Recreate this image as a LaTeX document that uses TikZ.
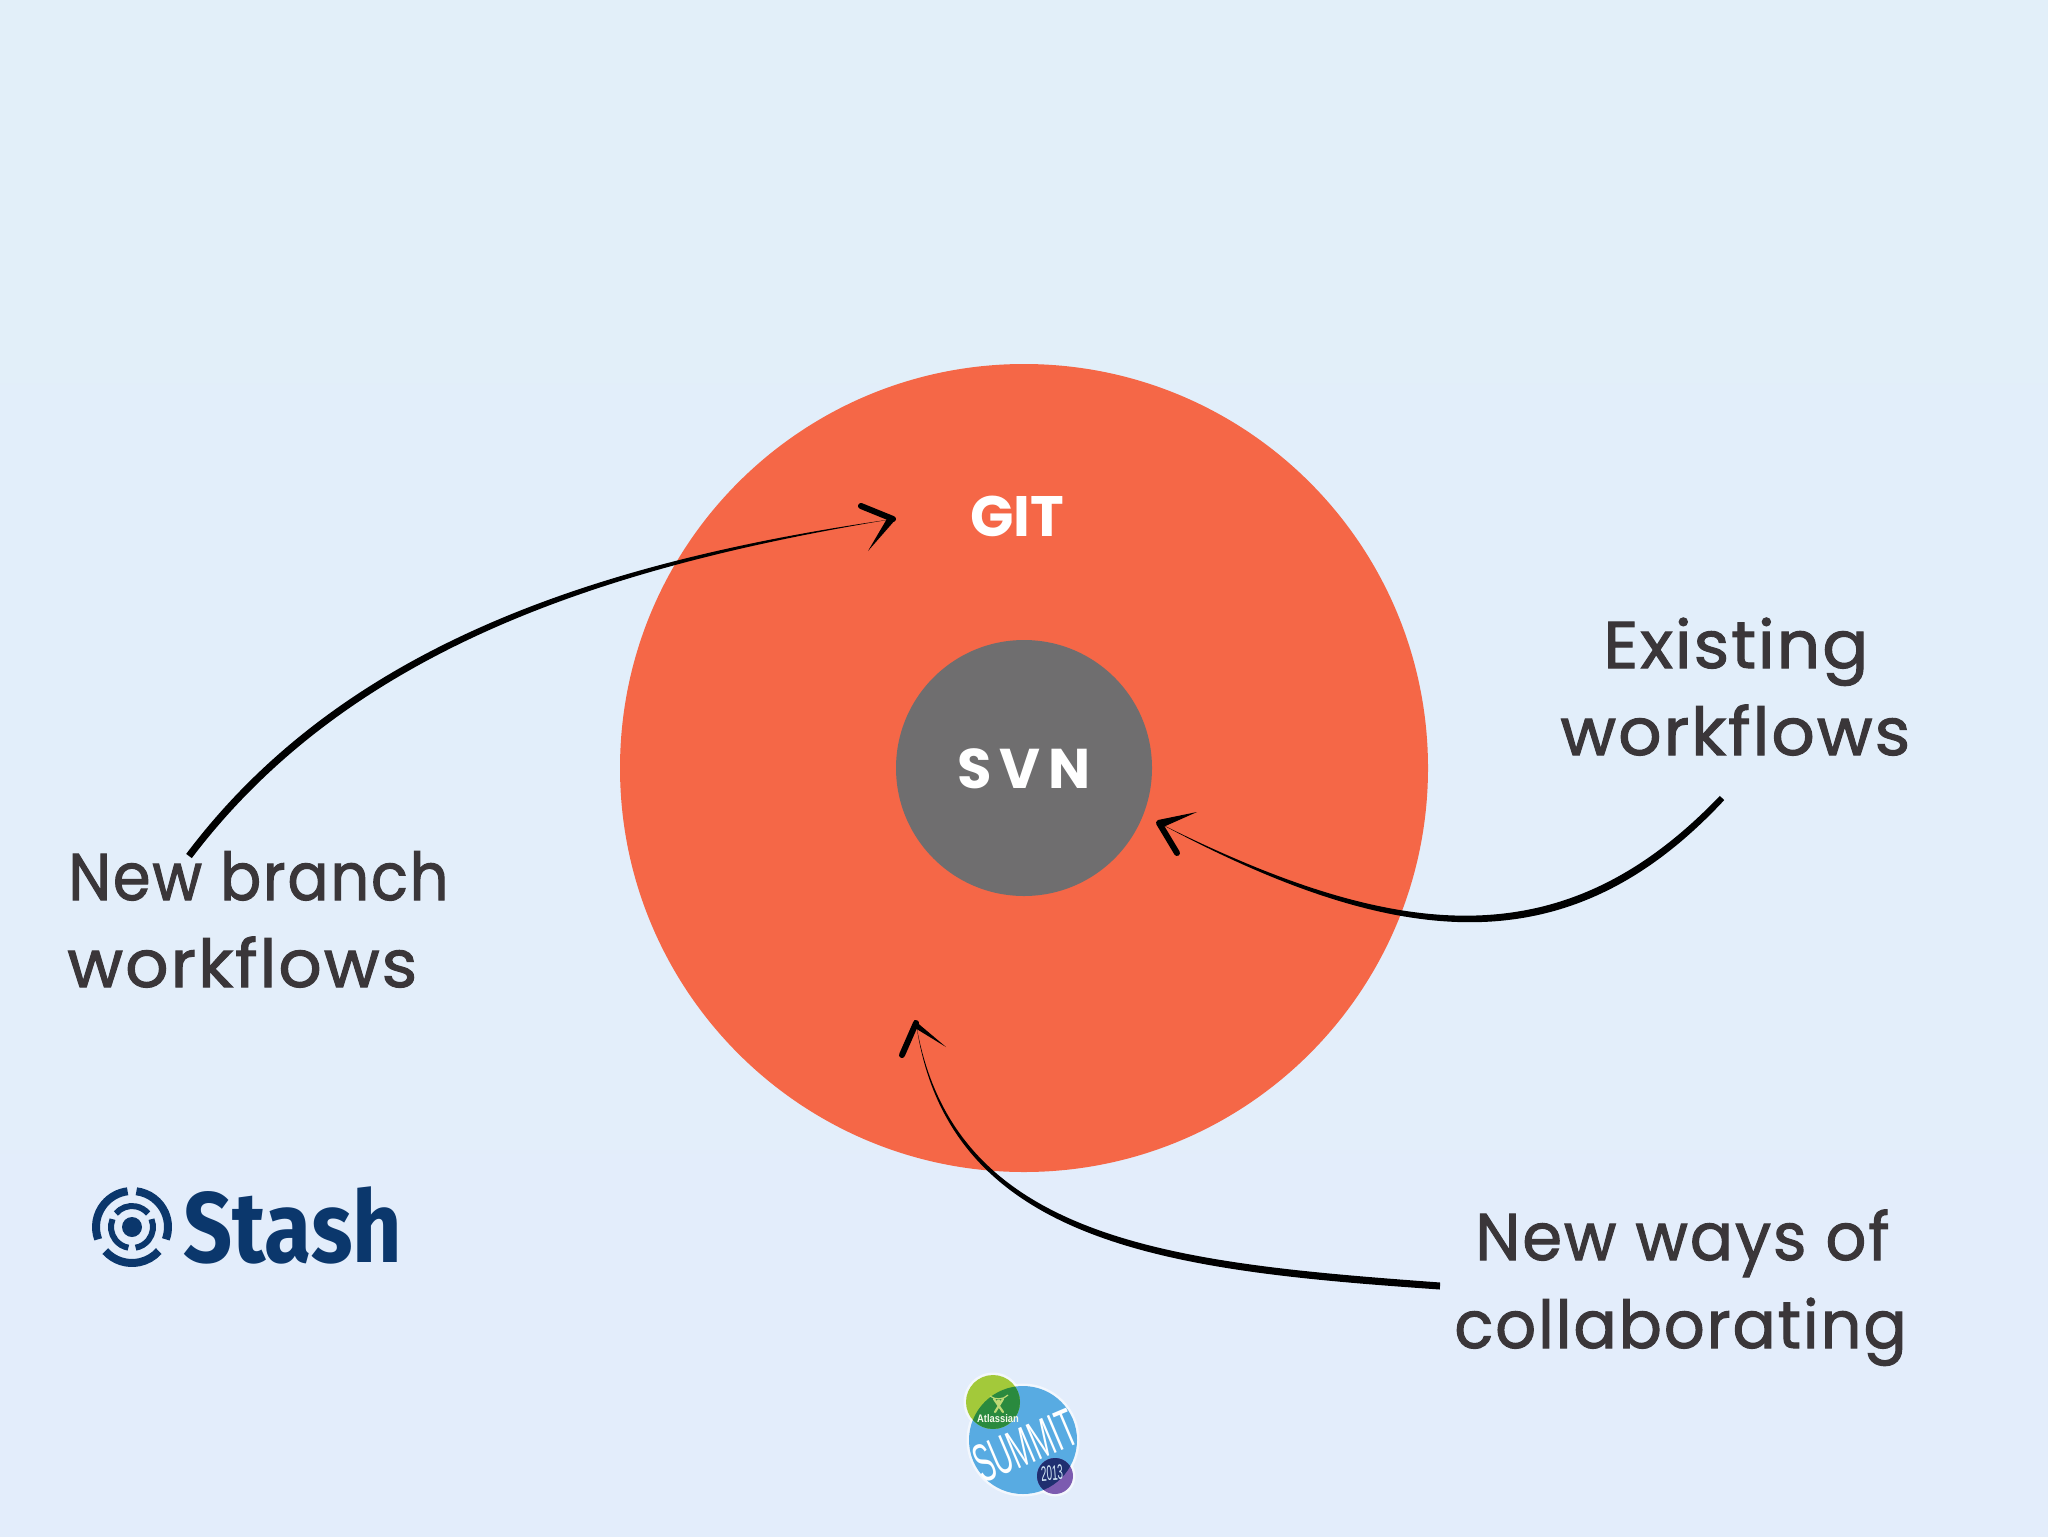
\documentclass[tikz,border=0pt]{standalone}
\usepackage{fontspec}
\usetikzlibrary{calc}
\setmainfont{Poppins}
\newfontfamily\handfont[LetterSpace=3,FakeBold=1.6]{Poppins}
\newfontfamily\headfont{Poppins}
\newfontfamily\svnfont[LetterSpace=14]{Poppins}
\newfontfamily\stashfont{Fira Sans}
\newfontfamily\narrowfont{Liberation Sans}
\definecolor{bgtop}{HTML}{E2EFF9}
\definecolor{bgbot}{HTML}{E3EDFB}
\definecolor{gitred}{HTML}{F56747}
\definecolor{svngrey}{HTML}{6F6E6F}
\definecolor{handink}{HTML}{3A3639}
\definecolor{stashblue}{HTML}{0B376C}
\definecolor{sumblue}{HTML}{58ABE2}
\definecolor{sumgreen}{HTML}{A3C93A}
\definecolor{sumdark}{HTML}{2A8A3E}
\definecolor{sumpurple}{HTML}{7C5BB0}
\definecolor{sumnavy}{HTML}{1F2F70}
\tikzset{
  hand/.style={anchor=base west,inner sep=0pt,text=handink,font=\handfont\fontsize{33}{33}\selectfont,transform shape},
  brushfill/.style={fill=black},
  barbthick/.style={draw=black,line width=3pt,line cap=round},
  ring/.style={draw=stashblue,line cap=butt},
}
\begin{document}
\begin{tikzpicture}[x=0.5pt,y=-0.5pt]
\useasboundingbox (0,0) rectangle (2048,1536);
\fill[top color=bgtop,bottom color=bgbot] (0,0) rectangle (2048,1536);

% circles
\node[circle,fill=gitred,minimum size=404pt,inner sep=0pt] (git) at (1024,768) {};
\node[circle,fill=svngrey,minimum size=128pt,inner sep=0pt] (svn) at (1024,768) {};
\node[anchor=base,inner sep=0pt,text=white,font=\headfont\bfseries\fontsize{28.5}{28.5}\selectfont] (gitlabel) at (1017,536) {GIT};
\node[anchor=base,inner sep=0pt,text=white,font=\svnfont\bfseries\fontsize{28}{28}\selectfont] (svnlabel) at (1024,788) {SVN};

% hand labels
\node[hand,xscale=.92] (nb1) at (68,900) {New branch};
\node[hand,xscale=1.03] (nb2) at (67,987) {workflows};
\node[hand,xscale=1.03] (ex1) at (1603,668) {Existing};
\node[hand,xscale=1.03] (ex2) at (1560,755) {workflows};
\node[hand,xscale=.97] (nw1) at (1475,1260) {New ways of};
\node[hand,xscale=.97] (nw2) at (1454,1348) {collaborating};

% arrow 1
\coordinate (s1) at (189,856); \coordinate (a1) at (346,648); \coordinate (b1) at (600,564); \coordinate (t1) at (893,519);
\coordinate (h1a) at (861,506); \coordinate (h1b) at (868,551);
\fill[brushfill] ($(s1)+(2.8,2.1)$) .. controls ($(a1)+(2.4,3.3)$) and ($(b1)+(.7,3)$) .. (t1)
  .. controls ($(b1)-(.7,3)$) and ($(a1)-(2.4,3.3)$) .. ($(s1)-(2.8,2.1)$) -- cycle;
\draw[barbthick] (t1) -- (h1a);
\fill[brushfill] ($(t1)+(3,0)$) -- ($(t1)+(-5,-2)$) -- (h1b) -- cycle;

% arrow 2
\coordinate (s2) at (1722,798); \coordinate (a2) at (1568,961); \coordinate (b2) at (1402,949); \coordinate (t2) at (1159,823);
\coordinate (h2a) at (1177,853); \coordinate (h2b) at (1197,812);
\fill[brushfill] ($(s2)+(2.2,2.1)$) .. controls ($(a2)+(2.1,4.5)$) and ($(b2)+(-1.2,3.6)$) .. (t2)
  .. controls ($(b2)-(-1.2,3.6)$) and ($(a2)-(2.1,4.5)$) .. ($(s2)-(2.2,2.1)$) -- cycle;
\draw[barbthick] (t2) -- (h2a);
\fill[brushfill] ($(t2)+(-1,-3)$) -- ($(t2)+(2,5)$) -- (h2b) -- cycle;

% arrow 3
\coordinate (s3) at (1440,1286); \coordinate (a3) at (1175,1267); \coordinate (b3) at (950,1245); \coordinate (t3) at (916,1023);
\coordinate (h3a) at (902,1055); \coordinate (h3b) at (946,1047);
\fill[brushfill] ($(s3)+(.2,-3.5)$) .. controls ($(a3)+(.3,-4)$) and ($(b3)+(2.2,-2.3)$) .. (t3)
  .. controls ($(b3)-(2.2,-2.3)$) and ($(a3)-(.3,-4)$) .. ($(s3)-(.2,-3.5)$) -- cycle;
\draw[barbthick] (t3) -- (h3a);
\fill[brushfill] ($(t3)+(-2,-3)$) -- ($(t3)+(-1,5)$) -- (h3b) -- cycle;

% Stash logo
\coordinate (st) at (132,1227);
\begin{scope}[shift={(st)},y=0.5pt]
\draw[ring,line width=4pt] (200:36) arc[start angle=200,end angle=97,radius=36];
\draw[ring,line width=4pt] (83:36) arc[start angle=83,end angle=-20,radius=36];
\draw[ring,line width=4pt] (222:36) arc[start angle=222,end angle=318,radius=36];
\draw[ring,line width=3pt] (140:21) arc[start angle=140,end angle=40,radius=21];
\draw[ring,line width=3pt] (22:21) arc[start angle=22,end angle=-80,radius=21];
\draw[ring,line width=3pt] (158:21) arc[start angle=158,end angle=260,radius=21];
\fill[stashblue] (0,0) circle[radius=10];
\end{scope}
\node[anchor=base west,inner sep=0pt,text=stashblue,font=\stashfont\bfseries\fontsize{50}{50}\selectfont,xscale=.86,transform shape] (stash) at (183,1262) {Stash};

% Summit logo
\coordinate (cb) at (1023,1440); \coordinate (cg) at (993,1402); \coordinate (cp) at (1055,1476);
\fill[white,opacity=.6] (cb) circle[radius=56.5];
\fill[white,opacity=.6] (cg) circle[radius=29.5];
\fill[white,opacity=.6] (cp) circle[radius=20.5];
\fill[sumblue] (cb) circle[radius=54];
\fill[sumgreen] (cg) circle[radius=27];
\begin{scope}
\clip (cb) circle[radius=54];
\fill[sumdark] (cg) circle[radius=27];
\end{scope}
\fill[sumpurple] (cp) circle[radius=18];
\begin{scope}
\clip (cb) circle[radius=54];
\fill[sumnavy] (cp) circle[radius=18];
\end{scope}
\node[inner sep=0pt,text=white,font=\narrowfont\fontsize{27}{27}\selectfont,rotate=23,xscale=.5,transform shape] (summit) at (1025,1446) {SUMMIT};
\node[inner sep=0pt,text=white!90!sumgreen,font=\narrowfont\bfseries\fontsize{5.5}{5.5}\selectfont,xscale=.85,transform shape] (atl) at (998,1419) {Atlassian};
\node[inner sep=0pt,text=white!75!sumblue,font=\narrowfont\fontsize{10.5}{10.5}\selectfont,rotate=4,xscale=.47,transform shape] (yr) at (1052,1473) {2013};
\draw[sumgreen!70!white,line width=1.1pt,line cap=round] (994,1399) -- (1003,1412);
\draw[sumgreen!70!white,line width=1.1pt,line cap=round] (1003,1399) -- (995,1412);
\fill[sumgreen!70!white] (998.5,1402) circle[radius=2.5];
\draw[sumgreen!70!white,line width=.6pt] (990,1396) .. controls (995,1400) and (1003,1400) .. (1008,1395);
\end{tikzpicture}
\end{document}
